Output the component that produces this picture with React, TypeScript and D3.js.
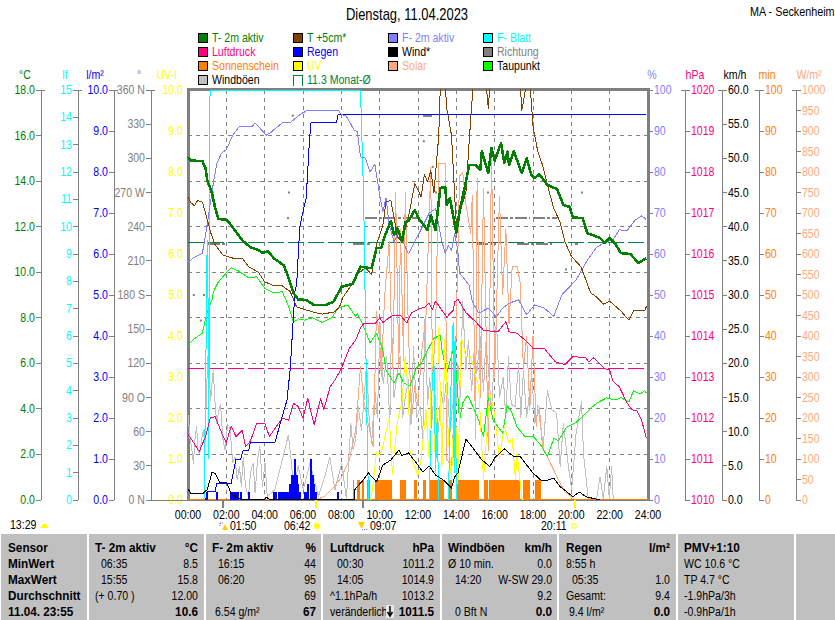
import React from "react";
import * as d3 from "d3";

type P = [number, number];

// ---- categories / labels
const hourLabels = ["00:00","02:00","04:00","06:00","08:00","10:00","12:00","14:00","16:00","18:00","20:00","22:00","24:00"];
const dirLabels: [number,string][] = [[360,"360 N"],[330,"330"],[300,"300"],[270,"270 W"],[240,"240"],[210,"210"],[180,"180 S"],[150,"150"],[120,"120"],[90,"90 O"],[60,"60"],[30,"30"],[0,"0 N"]];

// ---- series: [minute of day, value]
const t2m: P[] = [[0,15.06],[10,14.9],[45,14.88],[55,14.57],[60,14.05],[75,13.47],[85,12.82],[95,12.34],[120,12.3],[135,12.07],[150,11.78],[170,11.4],[195,11.1],[220,10.97],[235,10.84],[250,10.93],[270,10.6],[300,10.3],[315,9.75],[330,9.09],[345,8.8],[370,8.78],[395,8.56],[430,8.56],[455,8.7],[475,9.2],[480,9.36],[515,9.48],[540,10.24],[560,10.2],[575,10.18],[590,11.06],[605,11.06],[615,11.56],[635,12.25],[645,11.64],[655,11.95],[670,11.34],[680,12.2],[690,12.25],[710,12.73],[725,12.3],[750,11.85],[760,12.5],[775,11.85],[790,13.7],[805,13.75],[810,12.95],[820,13.25],[840,11.72],[850,12.66],[870,13.97],[880,14.7],[900,14.7],[915,14.5],[920,15.3],[940,14.35],[950,15.45],[960,14.9],[980,15.67],[990,14.8],[1000,15.3],[1005,14.7],[1020,15.3],[1045,14.35],[1060,15.0],[1075,14.27],[1085,14.13],[1100,14.3],[1125,13.83],[1155,13.65],[1175,12.95],[1195,12.87],[1205,12.4],[1235,12.38],[1250,11.72],[1290,11.5],[1305,11.28],[1320,11.5],[1340,11.2],[1355,10.84],[1385,10.8],[1410,10.4],[1430,10.58],[1435,10.6]];
const t5cm: P[] = [[0,13.3],[10,13.04],[20,12.92],[30,13.14],[45,13.08],[55,12.6],[70,11.78],[85,11.2],[110,10.75],[140,10.62],[170,10.62],[190,10.24],[220,10.0],[240,9.58],[265,9.43],[295,9.4],[320,9.15],[340,8.48],[360,8.38],[390,8.26],[420,8.16],[460,8.26],[475,8.5],[485,8.9],[505,9.3],[530,9.9],[555,10.2],[575,9.9],[590,11.2],[610,12.07],[620,13.1],[635,13.15],[645,12.4],[655,11.56],[670,11.34],[690,12.4],[710,13.9],[730,13.3],[740,14.3],[750,13.97],[760,14.45],[770,13.5],[785,16],[790,18.2],[805,18.3],[810,17.2],[825,16],[835,13.3],[840,12.1],[850,12.6],[870,13.5],[880,15.7],[890,17.7],[895,18.5],[910,19.5],[930,18.3],[935,18.0],[940,17.2],[945,18.2],[965,21],[1040,18.3],[1045,17.1],[1060,18.3],[1070,18.4],[1080,16.4],[1095,15.3],[1110,14.7],[1125,13.83],[1145,12.8],[1165,12.2],[1180,11.34],[1200,10.7],[1230,10.24],[1240,9.88],[1260,9.1],[1280,8.9],[1300,8.6],[1320,8.73],[1355,8.3],[1380,7.9],[1395,8.3],[1430,8.3],[1435,8.5]];
const taupunkt: P[] = [[0,6.8],[15,7.02],[45,7.33],[60,8.26],[75,8.78],[80,9.15],[95,9.58],[120,9.97],[135,10.2],[160,10.04],[190,9.75],[215,9.8],[240,9.3],[270,9.09],[295,9.15],[315,8.5],[330,7.8],[345,7.95],[365,7.9],[390,8.0],[420,7.8],[450,8.0],[470,8.43],[500,8.56],[525,8.05],[530,8.2],[550,7.6],[570,6.9],[590,7.33],[610,6.6],[620,5.7],[645,5.14],[660,5.58],[675,5.14],[695,5.0],[715,5.8],[730,6.0],[750,6.58],[770,7.1],[790,7.24],[795,6.6],[810,5.58],[830,6.58],[840,5.58],[850,3.5],[860,4.26],[875,4.6],[890,4.17],[910,3.5],[925,2.78],[940,4.5],[955,3.5],[985,2.94],[1000,4.17],[1015,3.8],[1030,3.2],[1055,2.78],[1080,2.8],[1105,2.4],[1125,1.9],[1145,2.7],[1160,2.6],[1185,3.2],[1215,3.4],[1255,3.95],[1280,4.26],[1310,4.48],[1340,4.39],[1355,4.5],[1380,4.3],[1395,4.8],[1415,4.65],[1430,4.8],[1435,4.7]];
const f2m: P[] = [[0,57.9],[15,59],[45,60.2],[55,64.6],[70,72.4],[80,77.6],[90,82],[105,84.6],[120,85.4],[140,89],[160,91],[200,91],[210,92],[225,90.7],[245,89],[260,89.7],[295,92],[320,92],[350,94],[375,95.1],[470,95.1],[480,94],[495,93.7],[520,90.2],[530,89.8],[540,83.7],[555,83.4],[570,80],[585,81.9],[600,74.4],[610,70.3],[620,73.7],[630,67],[645,63],[660,65.4],[690,60],[710,63],[740,67.6],[755,70],[775,71],[795,63],[805,60.2],[815,62],[825,60.9],[835,65],[845,60.6],[850,55.4],[880,52.4],[890,48.4],[910,45.6],[940,46.8],[965,44.7],[985,46.8],[1005,48],[1035,48.8],[1060,45.2],[1085,47.6],[1115,46.8],[1145,44.8],[1170,50],[1195,52],[1215,53.7],[1250,58.5],[1280,61.7],[1310,63],[1330,63.4],[1350,65.9],[1375,65.7],[1400,68.3],[1420,69.3],[1435,68.4]];
const luftdruck: P[] = [[0,1011.6],[15,1011.43],[35,1011.18],[55,1011.55],[70,1012.0],[85,1012.03],[110,1011.55],[120,1011.4],[135,1011.8],[150,1011.55],[170,1011.7],[180,1011.3],[195,1011.43],[215,1011.87],[240,1011.87],[255,1011.55],[280,1011.83],[295,1012.0],[315,1011.95],[330,1012.36],[345,1012.28],[360,1012.0],[375,1012.48],[395,1011.83],[415,1012.48],[425,1012.2],[445,1012.76],[460,1012.93],[480,1013.2],[505,1013.7],[525,1013.9],[540,1014.2],[550,1014.3],[585,1014.3],[600,1014.44],[610,1014.33],[640,1014.5],[665,1014.5],[685,1014.32],[700,1014.57],[720,1014.65],[740,1014.7],[755,1014.8],[765,1014.65],[775,1014.85],[810,1014.46],[830,1014.63],[835,1014.83],[845,1014.9],[870,1014.57],[900,1014.35],[925,1014.14],[970,1014.1],[995,1014.35],[1005,1014.1],[1030,1014.07],[1055,1013.9],[1080,1013.7],[1115,1013.7],[1150,1013.37],[1180,1013.3],[1205,1013.5],[1245,1013.47],[1255,1013.37],[1270,1013.47],[1305,1013.2],[1320,1013.17],[1330,1012.9],[1350,1012.76],[1375,1012.36],[1390,1012.2],[1405,1012.17],[1420,1011.95],[1435,1011.5]];
const regenSumme: P[] = [[0,0],[55,0],[60,0.2],[85,0.2],[90,0.4],[135,0.4],[150,1.0],[165,1.0],[172,1.2],[190,1.2],[195,1.4],[272,1.4],[290,1.9],[310,2.44],[320,3.2],[330,4.47],[335,5.1],[340,5.24],[350,6.67],[360,7.03],[370,7.37],[380,8.74],[385,9.2],[465,9.2],[470,9.4],[1435,9.4]];
const regenBars: P[] = [[60,0.2],[90,0.2],[135,0.2],[140,0.2],[145,0.2],[150,0.2],[155,0.2],[165,0.2],[190,0.2],[270,0.2],[275,0.2],[285,0.2],[290,0.2],[295,0.2],[300,0.2],[305,0.2],[310,0.2],[315,0.2],[320,0.4],[325,0.6],[330,0.6],[335,1.0],[340,0.6],[345,0.4],[350,0.2],[365,0.2],[370,0.2],[375,0.4],[385,1.0],[390,0.6],[395,0.4],[400,0.2],[470,0.2]];
const sunSpans: [number,number][] = [[517,520],[530,537],[545,550],[560,570],[585,640],[664,683],[708,718],[737,745],[758,800],[818,825],[841,910],[927,940],[943,1040],[1050,1070],[1087,1105]];
const sunMinutes = [5];
const solar: P[] = [[400,0],[430,10],[455,30],[480,55],[505,98],[525,170],[540,325],[550,244],[565,183],[580,130],[590,460],[600,390],[605,300],[615,490],[620,540],[630,630],[640,320],[645,490],[650,750],[660,320],[665,660],[675,340],[680,750],[690,410],[700,200],[710,280],[720,230],[730,350],[745,450],[760,810],[765,300],[775,410],[785,820],[805,820],[810,100],[825,80],[835,250],[850,790],[860,800],[870,720],[885,650],[890,744],[900,150],[905,785],[915,250],[925,760],[940,120],[950,850],[960,300],[975,740],[985,500],[995,660],[1005,430],[1015,570],[1030,570],[1040,530],[1050,320],[1060,400],[1070,220],[1080,400],[1090,180],[1095,230],[1100,225],[1110,130],[1125,105],[1145,73],[1165,41],[1180,20],[1205,5],[1211,0]];
const uv: P[] = [[570,0],[575,0.1],[585,0.8],[590,1.15],[605,1.15],[630,2.0],[640,0.65],[655,1.9],[670,2.4],[680,3.5],[690,2.6],[695,1.2],[705,0.9],[720,0.6],[730,1.0],[745,2.2],[755,1.0],[765,3.9],[775,0.6],[785,4.2],[795,0.8],[805,4.07],[815,1.5],[825,0.5],[835,2.7],[845,0.4],[855,4.0],[870,3.5],[885,3.5],[910,2.76],[925,0.5],[945,2.6],[960,2.1],[975,1.0],[990,1.8],[1005,1.4],[1015,1.5],[1025,0.5],[1030,1.15],[1045,0.05],[1050,0]];
const fBlattNacht: P[] = [[50,0],[55,4],[60,9.5],[62,9],[65,1.5],[67,9],[68,11],[69,15],[540,15],[545,13],[550,11],[555,7],[560,3],[565,0]];
const fBlattMittag1: P[] = [[755,0],[765,4.5],[770,5],[775,1],[780,3],[785,0]];
const fBlattMittag2: P[] = [[815,0],[825,5],[830,6.5],[833,1],[836,6],[840,0]];
const wind: P[] = [[0,1.6],[10,0.9],[45,0.9],[60,1.5],[75,4.0],[85,3.9],[100,2.5],[120,2.6],[135,1.0],[155,0.2],[180,0.1],[240,0.1],[245,0.4],[255,0.1],[520,0.1],[522,1.5],[548,2.9],[565,3.95],[590,2.65],[610,5.1],[635,5.86],[660,7.3],[670,6.5],[690,6.9],[715,5.4],[735,4.1],[755,4.98],[775,3.66],[800,2.9],[825,1.75],[835,3.4],[845,3.95],[870,8.9],[885,8.05],[920,5.86],[945,4.9],[960,6.15],[990,7.5],[1005,6.9],[1020,6.35],[1040,6.35],[1080,3.95],[1105,2.9],[1125,2.9],[1145,3.2],[1165,1.95],[1205,0.5],[1225,1.17],[1245,0.5],[1280,0.1],[1290,0]];
const windboen: P[] = [[1,12.4],[6,9],[11,7.8],[14,6.5],[17,5.4],[22,9],[27,10.7],[32,7],[37,6.8],[43,9],[48,10.2],[53,8],[58,16],[63,21.5],[68,17],[71,14.6],[75,17],[79,19],[85,14],[90,11.2],[96,13],[102,14],[109,9],[116,7.3],[124,11],[131,10.7],[140,5.5],[147,6.3],[154,3],[161,4.9],[167,2],[173,6.3],[180,2],[189,0.5],[196,4],[204,5.4],[210,1],[218,6],[225,7.8],[233,2],[241,5.4],[248,0.5],[272,1.5],[293,5.4],[314,9.5],[324,5.4],[330,1.5],[345,5],[361,1.5],[382,5.4],[408,0.5],[428,3.4],[444,6.3],[460,1.5],[481,5.4],[496,0.2],[510,11.2],[517,7.3],[525,9],[533,13.7],[543,10.2],[550,14],[559,20],[567,12],[575,8.3],[585,16],[593,12],[601,25.9],[611,17],[622,21],[632,11.2],[637,25.9],[645,15],[653,18],[664,21],[672,12],[680,15],[690,17.6],[698,11],[706,22.4],[716,12],[727,13.7],[735,9],[742,26.6],[750,14],[757,18],[763,11.2],[772,17],[778,9],[784,10.2],[792,16],[800,13.7],[810,18],[820,9.8],[828,14],[836,11.2],[845,20],[852,15],[860,29],[870,19],[878,23.4],[888,16],[896,22],[904,18.5],[915,24],[925,16],[932,23],[940,19.5],[950,13],[958,20],[966,25.9],[975,15],[987,18],[995,12],[1003,21],[1012,14],[1024,13.7],[1035,20],[1042,12],[1050,19],[1060,12],[1076,18.5],[1086,11.2],[1097,13.2],[1112,7.8],[1125,16],[1139,13.2],[1154,12.7],[1165,4.9],[1175,11.2],[1191,4.9],[1201,1.5],[1215,9.8],[1232,14.4],[1238,6.8],[1253,0.2],[1279,0.2],[1290,3.4],[1300,0.2],[1311,4.9],[1319,0.2],[1326,4.9],[1331,0.2]];
const richtungSpans: [number,number,number][] = [[62,115,225],[515,570,225],[900,965,225],[1030,1140,225],[1210,1220,225],[555,695,247.5],[700,725,247.5],[965,1070,247.5],[1080,1155,247.5],[735,765,337.5]];
const richtungDots: P[] = [[325,337.5],[313,270],[310,247.5],[75,270],[15,180],[47,180],[37,157.5],[735,315],[763,292.5],[773,270],[936,270],[1230,270],[1180,202.5]];
const monatMittel = [11.3];
const druckMittel = [1013.2];

// ---- summary table
const tableCols = [
  { head:"T- 2m aktiv", unit:"°C", x:95, r:198, t:101, rows:[["06:35","8.5"],["15:55","15.8"],["(+ 0.70 )","12.00"],["","10.6"]] },
  { head:"F- 2m aktiv", unit:"%", x:212, r:316, t:218, rows:[["16:15","44"],["06:20","95"],["","69"],["6.54 g/m²","67"]] },
  { head:"Luftdruck", unit:"hPa", x:330, r:434, t:337, rows:[["00:30","1011.2"],["14:05","1014.9"],["^1.1hPa/h","1013.2"],["veränderlich","1011.5"]] },
  { head:"Windböen", unit:"km/h", x:448, r:552, t:455, rows:[["Ø 10 min.","0.0"],["14:20","W-SW 29.0"],["","9.2"],["0 Bft N","0.0"]] },
  { head:"Regen", unit:"l/m²", x:566, r:670, t:572, rows:[["8:55 h",""],["05:35","1.0"],["Gesamt:","9.4"],["9.4 l/m²","0.0"]] },
];
const rowNames = ["MinWert","MaxWert","Durchschnitt","11.04. 23:55"];
const pmvRows = ["WC 10.6 °C","TP 4.7 °C","-1.9hPa/3h","-0.9hPa/1h"];
const separators = [88,205,322,441,558,677,795];

const legendCols = [
  [["T- 2m aktiv","#008000","#008000"],["Luftdruck","#ff0080","#ff0080"],["Sonnenschein","#ff8000","#ff8000"],["Windböen","#c0c0c0","#000000"]],
  [["T +5cm*","#804000","#008000"],["Regen","#0000ff","#0000ff"],["UV","#ffff00","#ffff00"],["11.3 Monat-Ø","","#008040"]],
  [["F- 2m aktiv","#8080ff","#8080ff"],["Wind*","#000000","#000000"],["Solar","#ffa880","#ffa880"]],
  [["F- Blatt","#00ffff","#00ffff"],["Richtung","#808080","#808080"],["Taupunkt","#00ff00","#000000"]],
];
const legendX = [198,293,388,483];

const FONT = "'Liberation Sans', Arial, sans-serif";
const T = ({x,y,anchor="start",fill="#000",size=12,weight="normal",sx=0.88,children}: any) => (
  <text transform={`translate(${x},${y}) scale(${sx},1)`} textAnchor={anchor} fill={fill} fontSize={size} fontWeight={weight} fontFamily={FONT}>{children}</text>
);

const X0=188, X1=648, Y0=500, Y1=90;
const x = d3.scaleLinear().domain([0,1440]).range([X0,X1]);
const yT = d3.scaleLinear().domain([0,18]).range([Y0,Y1]);
const yLf = d3.scaleLinear().domain([0,15]).range([Y0,Y1]);
const yRain = d3.scaleLinear().domain([0,10]).range([Y0,Y1]);
const yDir = d3.scaleLinear().domain([0,360]).range([Y0,Y1]);
const yUv = d3.scaleLinear().domain([0,10]).range([Y0,Y1]);
const yPct = d3.scaleLinear().domain([0,100]).range([Y0,Y1]);
const yHpa = d3.scaleLinear().domain([1010,1020]).range([Y0,Y1]);
const yKmh = d3.scaleLinear().domain([0,60]).range([Y0,Y1]);
const yMin = d3.scaleLinear().domain([0,100]).range([Y0,Y1]);
const ySol = d3.scaleLinear().domain([0,1000]).range([Y0,Y1]);

const AX = "#808080";

function path(data:P[], y:any){ return d3.line<P>().x(d=>x(d[0])).y(d=>y(d[1]))(data) as string; }

function LeftAxis({ax,scale,ticks,fmt,color,endX}:any){
  return <g>
    <line x1={ax} x2={ax} y1={Y1} y2={Y0} stroke={AX} shapeRendering="crispEdges"/>
    <line x1={ax-5} x2={ax+4} y1={Y1} y2={Y1} stroke={AX} shapeRendering="crispEdges"/>
    {ticks.map((t:number)=><g key={t}>
      <line x1={ax-5} x2={ax} y1={scale(t)} y2={scale(t)} stroke={AX} shapeRendering="crispEdges"/>
      <T x={endX ?? ax-6} y={scale(t)+4} anchor="end" fill={color}>{fmt(t)}</T>
    </g>)}
  </g>;
}
function RightAxis({ax,scale,ticks,fmt,color}:any){
  return <g>
    <line x1={ax} x2={ax} y1={Y1} y2={Y0} stroke={AX} shapeRendering="crispEdges"/>
    <line x1={ax-4} x2={ax} y1={Y1} y2={Y1} stroke={AX} shapeRendering="crispEdges"/>
    {ticks.map((t:number)=><g key={t}>
      <line x1={ax} x2={ax+5} y1={scale(t)} y2={scale(t)} stroke={AX} shapeRendering="crispEdges"/>
      <T x={ax+6} y={scale(t)+4} fill={color}>{fmt(t)}</T>
    </g>)}
  </g>;
}
const f1=(v:number)=>v.toFixed(1), f0=(v:number)=>String(v);
const Line=({d,color,w=1}:any)=><path d={d} fill="none" stroke={color} strokeWidth={w} shapeRendering="crispEdges" strokeLinejoin="round"/>;
const BOLD_SX = 0.98;

export default function App(){
  const hours = d3.range(0,13).map(i=>i*120);
  const gridT = d3.range(2,18,2);
  return (
    <svg width={835} height={620} style={{position:"absolute",left:0,top:0,background:"#fff"}}>
      <defs><clipPath id="plot"><rect x={X0-1} y={Y1-1} width={X1-X0+1} height={Y0-Y1+1}/></clipPath></defs>

      <T x={407} y={20} anchor="middle" size={16} sx={0.81}>Dienstag, 11.04.2023</T>
      <T x={750} y={16} size={12} sx={0.9}>MA - Seckenheim</T>

      {legendCols.map((col,i)=>col.map((e,j)=>{
        const lx=legendX[i], ly=33+j*14;
        return <g key={e[0]}>
          {e[1] ? <rect x={lx+0.5} y={ly+0.5} width={9} height={9} fill={e[1]} stroke="#000" shapeRendering="crispEdges"/>
                : <path d={`M${lx+0.5},${ly+10.5}V${ly+0.5}H${lx+9.5}V${ly+10.5}`} fill="none" stroke="#008040" shapeRendering="crispEdges"/>}
          <T x={lx+14} y={ly+9} fill={e[2]}>{e[0]}</T>
        </g>;
      }))}

      <T x={25} y={79} anchor="middle" fill="#008000">°C</T>
      <T x={65} y={79} anchor="middle" fill="#00ffff">lf</T>
      <T x={95} y={79} anchor="middle" fill="#0000ff">l/m²</T>
      <T x={139} y={79} anchor="middle" fill="#808080">°</T>
      <T x={167} y={79} anchor="middle" fill="#ffff00">UV-I</T>
      <T x={652} y={79} anchor="middle" fill="#8080ff">%</T>
      <T x={695} y={79} anchor="middle" fill="#ff0080">hPa</T>
      <T x={735} y={79} anchor="middle" fill="#000">km/h</T>
      <T x={767} y={79} anchor="middle" fill="#ff8000">min</T>
      <T x={809} y={79} anchor="middle" fill="#ffa880">W/m²</T>

      <LeftAxis ax={41} scale={yT} ticks={d3.range(0,19,2)} fmt={f1} color="#008000"/>
      <LeftAxis ax={78} scale={yLf} ticks={d3.range(0,16)} fmt={f0} color="#00ffff"/>
      <LeftAxis ax={114} scale={yRain} ticks={d3.range(0,11)} fmt={f1} color="#0000ff"/>
      <g>
        <line x1={151} x2={151} y1={Y1} y2={Y0} stroke={AX} shapeRendering="crispEdges"/>
        <line x1={146} x2={155} y1={Y1} y2={Y1} stroke={AX} shapeRendering="crispEdges"/>
        {dirLabels.map(([v,l])=><g key={v}>
          <line x1={146} x2={151} y1={yDir(v)} y2={yDir(v)} stroke={AX} shapeRendering="crispEdges"/>
          <T x={145} y={yDir(v)+4} anchor="end" fill="#808080">{l}</T>
        </g>)}
      </g>
      {d3.range(0,11).map(v=><T key={v} x={183} y={yUv(v)+4} anchor="end" fill="#ffff00">{f1(v)}</T>)}

      <RightAxis ax={648} scale={yPct} ticks={d3.range(0,101,10)} fmt={f0} color="#8080ff"/>
      <RightAxis ax={685} scale={yHpa} ticks={d3.range(1010,1021)} fmt={f0} color="#ff0080"/>
      <RightAxis ax={722} scale={yKmh} ticks={d3.range(0,61,5)} fmt={f1} color="#000"/>
      <RightAxis ax={759} scale={yMin} ticks={d3.range(0,101,10)} fmt={f0} color="#ff8000"/>
      <RightAxis ax={796} scale={ySol} ticks={d3.range(0,1001,50)} fmt={f0} color="#ffa880"/>

      {/* frame and grid lie under the series */}
      <path d={`M${X0},${Y0}V${Y1-1}H${X1}V${Y0}`} fill="none" stroke="#808080" strokeWidth={3} shapeRendering="crispEdges"/>
      <line x1={151} x2={X1} y1={Y0} y2={Y0} stroke="#808080" shapeRendering="crispEdges"/>
      {hours.slice(1,-1).map(h=><line key={h} x1={x(h)} x2={x(h)} y1={Y1} y2={Y0} stroke="#808080" strokeDasharray="4 4" shapeRendering="crispEdges"/>)}
      {gridT.map(t=><line key={t} x1={X0} x2={X1} y1={yT(t)} y2={yT(t)} stroke="#808080" strokeDasharray="4 4" shapeRendering="crispEdges"/>)}

      <g clipPath="url(#plot)">
        {monatMittel.map(v=><line key={v} x1={X0} x2={X1} y1={yT(v)} y2={yT(v)} stroke="#008040" strokeDasharray="16 4" shapeRendering="crispEdges"/>)}
        {druckMittel.map(v=><line key={v} x1={X0} x2={X1} y1={yHpa(v)} y2={yHpa(v)} stroke="#ff0080" strokeDasharray="16 4" shapeRendering="crispEdges"/>)}
        {richtungSpans.map(([a,b,v])=><line key={a} x1={x(a)} x2={x(b)} y1={yDir(v)} y2={yDir(v)} stroke="#808080" strokeWidth={2} strokeDasharray="12 2 3 2" shapeRendering="crispEdges"/>)}
        {richtungDots.map(([a,v])=><rect key={a} x={x(a)} y={yDir(v)-1} width={2} height={2} fill="#808080"/>)}

        <Line d={path(windboen,yKmh)} color="#c0c0c0"/>
        <Line d={path(solar,ySol)} color="#ffa880"/>
        <Line d={path(taupunkt,yT)} color="#00ff00"/>
        {sunSpans.map(([a,b])=><rect key={a} x={x(a)} width={x(b)-x(a)} y={yMin(sunMinutes[0])} height={Y0-yMin(sunMinutes[0])} fill="#ff8000" shapeRendering="crispEdges"/>)}
        <line x1={X0} x2={X1} y1={Y0-0.5} y2={Y0-0.5} stroke="#ff8000" strokeWidth={1} shapeRendering="crispEdges"/>
        <Line d={path(uv,yUv)} color="#ffff00"/>
        <Line d={path(fBlattNacht,yLf)} color="#00ffff"/>
        <Line d={path(fBlattMittag1,yLf)} color="#00ffff"/>
        <Line d={path(fBlattMittag2,yLf)} color="#00ffff"/>
        {regenBars.map(([m,v])=><rect key={m} x={x(m)-1} width={2} y={yRain(v)} height={Y0-yRain(v)} fill="#0000ff" shapeRendering="crispEdges"/>)}
        <Line d={path(wind,yKmh)} color="#000"/>
        <Line d={path(luftdruck,yHpa)} color="#ff0080"/>
        <Line d={path(regenSumme,yRain)} color="#0000ff"/>
        <Line d={path(f2m,yPct)} color="#8080ff"/>
        <Line d={path(t5cm,yT)} color="#804000"/>
        <Line d={path(t2m,yT)} color="#008000" w={2.6}/>
      </g>

      {/* x axis */}
      {hours.map((h,i)=><T key={h} x={x(h)} y={519} anchor="middle">{hourLabels[i]}</T>)}
      {[110,547].map(m=><line key={m} x1={x(m)} x2={x(m)} y1={Y0} y2={508} stroke="#808080" strokeWidth={2} shapeRendering="crispEdges"/>)}
      {[402,1211].map(m=><line key={m} x1={x(m)} x2={x(m)} y1={Y0} y2={508} stroke="#ffff00" strokeWidth={2} shapeRendering="crispEdges"/>)}

      {/* rise/set events */}
      <T x={10} y={529}>13:29</T>
      <path d="M40,528 L43,524 L46,524 L49,528 Z" fill="#ffff00"/>
      <T x={230} y={530}>01:50</T>
      <path d="M222,530 L225,524 L228,530 Z" fill="#ffd000"/>
      <path d="M220,523 L224,523 M220,523 L220,527" stroke="#6060c0" strokeDasharray="1 1" fill="none"/>
      <T x={284} y={530}>06:42</T>
      <circle cx={317} cy={526} r={3} fill="#ffff00"/>
      <circle cx={317} cy={526} r={5} fill="none" stroke="#ffff80" strokeDasharray="1.5 1.5"/>
      <T x={370} y={530}>09:07</T>
      <path d="M358,522 L365,522 L361.5,529 Z" fill="#ffd000"/>
      <path d="M362,530 L368,529" stroke="#6060c0" strokeDasharray="1 1" fill="none"/>
      <T x={541} y={530}>20:11</T>
      <rect x={572} y={524} width={4} height={4} fill="#fff" stroke="#ffff00"/>

      {/* table */}
      <rect x={1} y={534} width={834} height={86} fill="#c0c0c0"/>
      {separators.map(s=><line key={s} x1={s} x2={s} y1={534} y2={620} stroke="#fff" strokeWidth={1.5} shapeRendering="crispEdges"/>)}
      <T x={8} y={552} weight="bold" sx={BOLD_SX}>Sensor</T>
      {rowNames.map((r,i)=><T key={r} x={8} y={568+i*16} weight="bold" sx={BOLD_SX}>{r}</T>)}
      {tableCols.map((c)=><g key={c.head}>
        <T x={c.x} y={552} weight="bold" sx={BOLD_SX}>{c.head}</T>
        <T x={c.r} y={552} anchor="end" weight="bold" sx={BOLD_SX}>{c.unit}</T>
        {c.rows.map((row,i)=>{
          const yy=568+i*16, full=i===3;
          const left = /^\d\d:\d\d$|^0 Bft/.test(row[0]) ? c.t : (row[0].startsWith("9.4")||row[0].startsWith("6.54") ? c.x+3 : c.x);
          return <g key={i}>
            <T x={left} y={yy}>{row[0]}</T>
            <T x={c.r} y={yy} anchor="end" weight={full?"bold":"normal"} sx={full?BOLD_SX:0.88}>{row[1]}</T>
          </g>;
        })}
      </g>)}
      <rect x={386} y={605} width={8} height={13} fill="#e8e8e8"/>
      <path d="M390,606V615M387.5,612L390,616L392.5,612" fill="none" stroke="#000" strokeWidth={1.5}/>
      <T x={684} y={552} weight="bold" sx={BOLD_SX}>PMV+1:10</T>
      {pmvRows.map((r,i)=><T key={r} x={684} y={568+i*16}>{r}</T>)}
    </svg>
  );
}
